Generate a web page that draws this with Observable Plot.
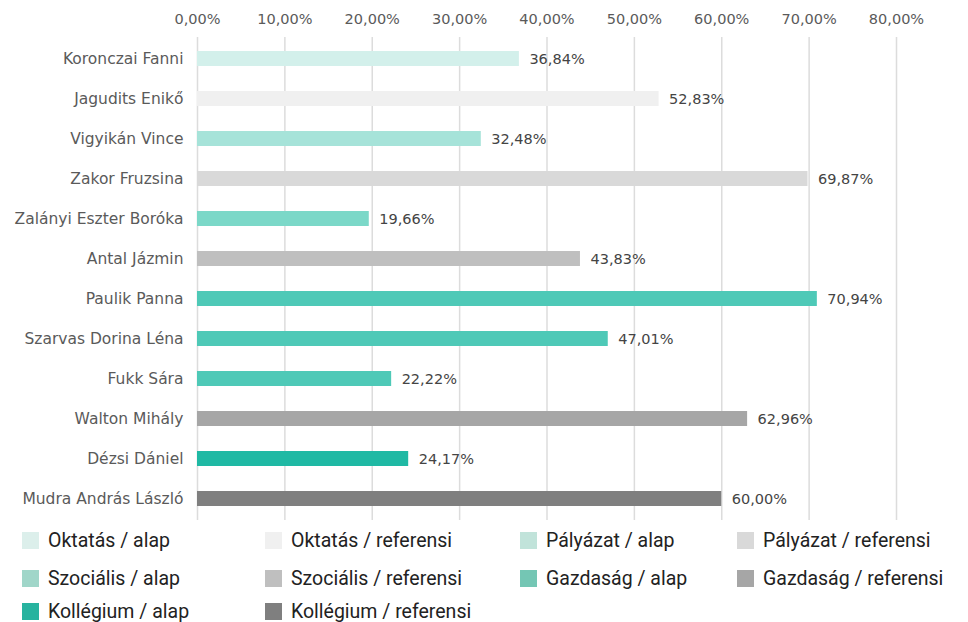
<!DOCTYPE html>
<html>
<head>
<meta charset="utf-8">
<script src="https://cdn.jsdelivr.net/npm/d3@7"></script>
<script src="https://cdn.jsdelivr.net/npm/@observablehq/plot@0.6"></script>
<style>
  html, body { margin: 0; padding: 0; background: #fff; }
  #chart { width: 968px; }
  .legend { position: relative; height: 97px; font-family: Roboto, sans-serif; font-size: 19.5px; font-weight: 400; color: #222; }
  .item { position: absolute; display: flex; align-items: center; line-height: 22px; }
  .sw { width: 17px; height: 17px; margin-right: 9px; }
  .item span { position: relative; top: 1px; }
</style>
</head>
<body>
<div id="chart"></div>
<script>
const names = ["Koronczai Fanni","Jagudits Enikő","Vigyikán Vince","Zakor Fruzsina","Zalányi Eszter Boróka","Antal Jázmin","Paulik Panna","Szarvas Dorina Léna","Fukk Sára","Walton Mihály","Dézsi Dániel","Mudra András László"];
const values = [36.84, 52.83, 32.48, 69.87, 19.66, 43.83, 70.94, 47.01, 22.22, 62.96, 24.17, 60.00];
const groups = ["Oktatás / alap","Oktatás / referensi","Pályázat / alap","Pályázat / referensi","Szociális / alap","Szociális / referensi","Gazdaság / alap","Gazdaság / alap","Gazdaság / alap","Gazdaság / referensi","Kollégium / alap","Kollégium / referensi"];
const legendLabels = ["Oktatás / alap","Oktatás / referensi","Pályázat / alap","Pályázat / referensi","Szociális / alap","Szociális / referensi","Gazdaság / alap","Gazdaság / referensi","Kollégium / alap","Kollégium / referensi"];
const palette = ["#d3f0eb","#f0f0f0","#a6e3d9","#d9d9d9","#7bd8c8","#bfbfbf","#4ec9b7","#a6a6a6","#1fb9a4","#7f7f7f"];
const legendPalette = ["#dcefeb","#f0f0f0","#c1e3da","#d9d9d9","#a0d6c9","#bfbfbf","#74c6b4","#a6a6a6","#27b39f","#7f7f7f"];
const xTicks = [0,10,20,30,40,50,60,70,80];

const data = names.map((n, i) => ({name: n, value: values[i], group: groups[i]}));
const fmt = v => v.toFixed(2).replace(".", ",") + "%";

const plot = Plot.plot({
  width: 968,
  height: 525,
  marginTop: 37,
  marginBottom: 5,
  marginLeft: 197,
  marginRight: 72,
  style: {fontFamily: "'DejaVu Sans', sans-serif", fontSize: "14.5px", color: "#5a5a5a"},
  x: {domain: [0, 80], ticks: xTicks, tickFormat: fmt, axis: "top", label: null, tickSize: 0, tickPadding: 14},
  y: {domain: names, paddingInner: 0.62, paddingOuter: 0.31, label: null, tickSize: 0, tickPadding: 14},
  color: {domain: legendLabels, range: palette},
  marks: [
    Plot.ruleX(xTicks, {stroke: "#dcdcdc", strokeWidth: 1.5}),
    Plot.barX(data, {x: "value", y: "name", fill: "group"}),
    Plot.axisY({tickSize: 0, tickPadding: 14, fontSize: 15.5, label: null}),
    Plot.text(data, {x: "value", y: "name", text: d => fmt(d.value), textAnchor: "start", dx: 10, fill: "#444", fontSize: 14.5})
  ]
});
document.getElementById("chart").appendChild(plot);

const leg = document.createElement("div");
leg.className = "legend";
const colX = [22, 265, 520, 737];
const rowY = [4, 42, 75];
legendLabels.forEach((l, i) => {
  const it = document.createElement("div");
  it.className = "item";
  it.style.left = colX[i % 4] + "px";
  it.style.top = rowY[Math.floor(i / 4)] + "px";
  const sw = document.createElement("div");
  sw.className = "sw";
  sw.style.background = legendPalette[i];
  const t = document.createElement("span");
  t.textContent = l;
  it.appendChild(sw); it.appendChild(t);
  leg.appendChild(it);
});
document.getElementById("chart").appendChild(leg);
</script>
</body>
</html>
